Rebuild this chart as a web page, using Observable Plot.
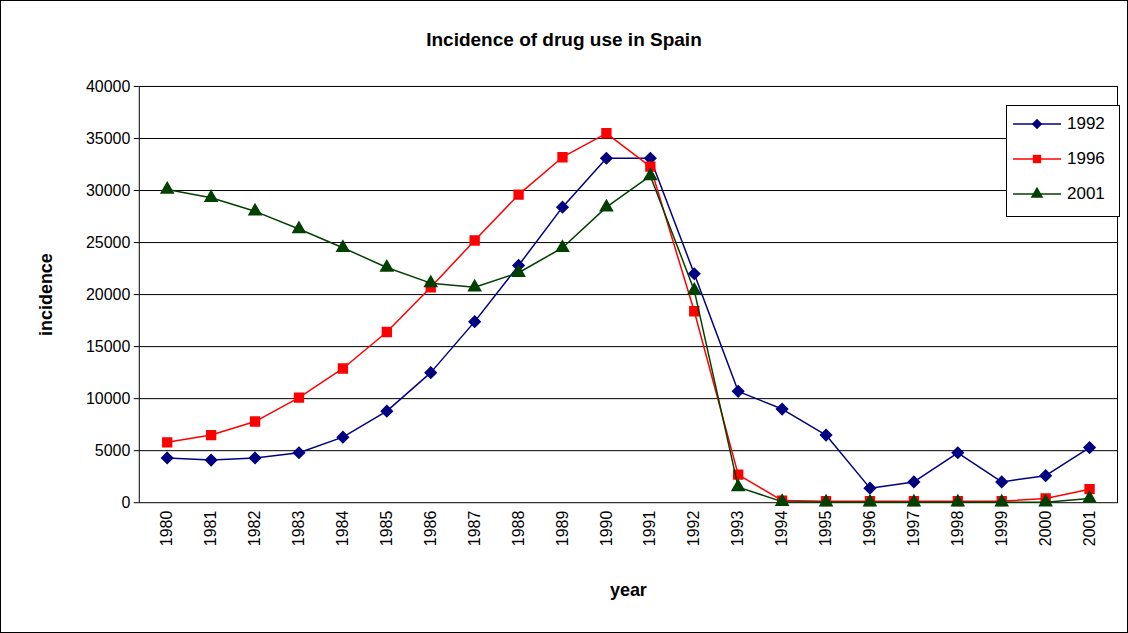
<!DOCTYPE html>
<html><head><meta charset="utf-8">
<script src="https://cdn.jsdelivr.net/npm/d3@7"></script>
<script src="https://cdn.jsdelivr.net/npm/@observablehq/plot@0.6"></script>
<style>
body{margin:0;font-family:Arial,"Liberation Sans",sans-serif;background:#fff}
#wrap{position:relative;width:1126px;height:631px;border:1px solid #000;overflow:hidden}
#title{position:absolute;top:28px;width:100%;text-align:center;font-weight:bold;font-size:19px}
#chart{position:absolute;top:60px;left:0}
#legend{position:absolute;left:1005px;top:104px;width:112px;height:110px;border:1px solid #000;background:#fff;font-size:17px}
.row{position:absolute;left:6px;height:20px;display:flex;align-items:center}
.row span{margin-left:6px}
</style></head><body>
<div id="wrap"><div id="title">Incidence of drug use in Spain</div><div id="chart"></div><div id="legend"></div></div>
<script>
const years = d3.range(1980, 2002).map(String)
const s1992 = [4300,4100,4300,4800,6300,8800,12500,17400,22800,28400,33100,33100,22000,10700,9000,6500,1400,2000,4800,2000,2600,5300]
const s1996 = [5800,6500,7800,10100,12900,16400,20700,25200,29600,33200,35500,32300,18400,2700,200,150,150,150,150,150,400,1300]
const s2001 = [30100,29300,28000,26300,24500,22600,21100,20700,22100,24500,28400,31400,20400,1500,100,50,50,50,50,50,50,400]
const seriesNames = ["1992","1996","2001"]
const colors = ["#000080","#ff0000","#004000"]
const symbols = ["diamond2","square","triangle"]
const sizes = [5, 5, 4.5]
const allSeries = [s1992, s1996, s2001]

const data = allSeries.flatMap((s, i) => s.map((v, j) => ({year: years[j], value: v, series: seriesNames[i]})))

const marks = [
  Plot.gridY([5000,10000,15000,20000,25000,30000,35000], {stroke: "#000", strokeOpacity: 1}),
  Plot.frame({stroke: "#000"}),
  Plot.axisY({ticks: d3.range(0, 40001, 5000), tickFormat: d => String(d), fontSize: 16, tickSize: 5, label: "incidence", labelAnchor: "center", labelOffset: 100, labelArrow: "none"}),
  Plot.axisX({tickRotate: -90, fontSize: 16, tickSize: 0, tickPadding: 8, label: "year", labelAnchor: "center", labelOffset: 93, labelArrow: "none"}),
]
seriesNames.forEach((n, i) => {
  const d = data.filter(r => r.series === n)
  marks.push(Plot.line(d, {x: "year", y: "value", stroke: colors[i], strokeWidth: 1.5}))
  marks.push(Plot.dot(d, {x: "year", y: "value", symbol: () => symbols[i], fill: colors[i], stroke: colors[i], r: sizes[i]}))
})

const chart = Plot.plot({
  width: 1128, height: 573,
  marginLeft: 138, marginRight: 10, marginTop: 25, marginBottom: 131,
  x: {type: "point", domain: years, padding: 0.5},
  y: {domain: [0, 40000]},
  symbol: {type: "identity"},
  style: {fontFamily: "Arial, 'Liberation Sans', sans-serif", fontSize: 16, color: "#000", background: "#fff"},
  marks
})
d3.select(chart).selectAll("[aria-label$='axis label'] text, [aria-label$='axis label']").style("font-weight", "bold").style("font-size", "18px")
d3.select('#chart').append(() => chart)

const leg = d3.select('#legend')
seriesNames.forEach((n, i) => {
  const row = leg.append('div').attr('class', 'row').style('top', (8 + i * 35) + 'px')
  const svg = row.append('svg').attr('width', 48).attr('height', 16)
  svg.append('line').attr('x1', 0).attr('x2', 48).attr('y1', 8).attr('y2', 8).attr('stroke', colors[i]).attr('stroke-width', 1.5)
  const sym = i === 0 ? d3.symbolDiamond2 : i === 1 ? d3.symbolSquare : d3.symbolTriangle
  svg.append('path').attr('d', d3.symbol(sym, 70)()).attr('transform', 'translate(24,8)').attr('fill', colors[i])
  row.append('span').text(n)
})
</script></body></html>
